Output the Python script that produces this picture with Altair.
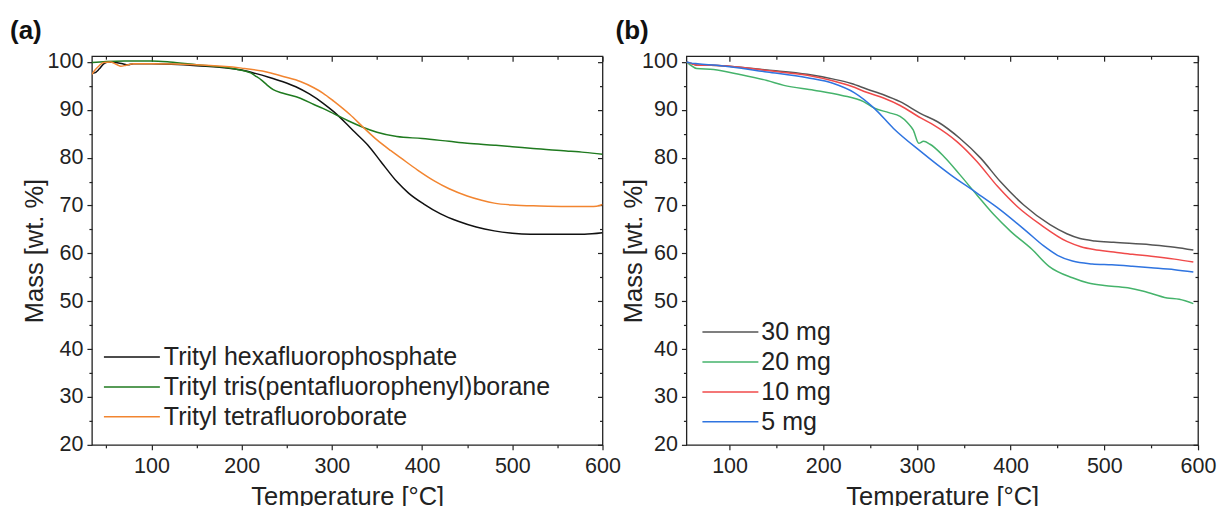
import altair as alt
import pandas as pd

FONT = "Liberation Sans"
INK = "#222222"

# ---------------- Panel (a) data ----------------
a_series = ["Trityl hexafluorophosphate", "Trityl tris(pentafluorophenyl)borane", "Trityl tetrafluoroborate"]
a_colors = ["#111111", "#1f7a1f", "#f28530"]

a_hexa_T = [34, 37, 42, 47, 52, 60, 68, 74, 80, 100, 150, 200, 215, 230, 245, 260, 275, 290, 302, 315,
            325, 340, 355, 372, 385, 402, 420, 440, 460, 480, 500, 520, 550, 580, 600]
a_hexa_M = [97.6, 97.7, 98.5, 99.6, 100.0, 99.9, 99.6, 99.4, 99.6, 99.6, 99.2, 98.3, 97.6, 96.8, 95.9, 94.8,
            93.3, 91.4, 89.6, 87.3, 85.4, 82.6, 79.0, 75.0, 72.6, 70.3, 68.3, 66.7, 65.5, 64.7, 64.2, 64.0,
            64.0, 64.0, 64.3]

a_tris_T = [34, 50, 70, 100, 120, 150, 190, 210, 215, 222, 228, 235, 245, 265, 280, 290, 302, 318, 335, 350,
            372, 400, 430, 450, 480, 500, 523, 560, 580, 600]
a_tris_M = [99.9, 100.1, 100.2, 100.2, 100.0, 99.4, 98.6, 97.7, 97.1, 96.2, 95.2, 94.2, 93.5, 92.4, 91.1,
            90.3, 89.2, 87.7, 86.3, 85.3, 84.4, 84.0, 83.4, 83.0, 82.6, 82.3, 81.9, 81.4, 81.1, 80.7]

a_tetra_T = [34, 37, 42, 47, 55, 62, 66, 72, 80, 100, 150, 200, 230, 247, 265, 280, 290, 302, 320, 335,
             350, 365, 376, 395, 413, 430, 450, 466, 480, 500, 530, 560, 590, 597, 600]
a_tetra_M = [97.4, 98.2, 99.2, 99.9, 100.0, 99.4, 99.1, 99.3, 99.6, 99.6, 99.4, 98.7, 97.8, 96.9, 95.9,
             94.6, 93.5, 91.8, 89.0, 86.3, 83.7, 81.5, 80.0, 77.4, 75.2, 73.5, 72.0, 71.1, 70.5, 70.1,
             69.9, 69.8, 69.8, 70.0, 70.2]

# ---------------- Panel (b) data ----------------
b_series = ["30 mg", "20 mg", "10 mg", "5 mg"]
b_colors = ["#555555", "#45b36b", "#f04a4a", "#2f74e0"]

b_30_T = [54, 60, 66, 80, 100, 140, 183, 211, 230, 247, 265, 282, 304, 322, 346, 368, 389, 414, 442, 460,
          474, 490, 510, 549, 575, 595]
b_30_M = [100.0, 99.6, 99.3, 99.3, 99.1, 98.3, 97.4, 96.4, 95.5, 94.3, 93.1, 91.7, 89.2, 87.5, 84.0, 79.9,
          75.0, 70.1, 66.0, 64.1, 63.1, 62.6, 62.3, 61.8, 61.3, 60.7]

b_20_T = [54, 58, 65, 83, 110, 140, 158, 190, 220, 243, 254, 270, 282, 290, 296, 302, 307, 314, 329, 346,
          364, 382, 400, 423, 441, 466, 483, 500, 525, 542, 567, 580, 595]
b_20_M = [100.0, 99.4, 98.6, 98.4, 97.4, 96.1, 95.1, 94.1, 93.0, 91.7, 90.4, 89.4, 88.6, 87.3, 85.8, 83.0,
          83.4, 82.8, 80.2, 76.4, 72.2, 68.1, 64.6, 60.8, 57.3, 54.9, 53.8, 53.3, 52.8, 52.1, 50.7, 50.4, 49.5]

b_10_T = [54, 60, 66, 80, 100, 140, 183, 211, 230, 247, 265, 282, 304, 318, 343, 364, 386, 407, 432, 460,
          475, 489, 510, 530, 550, 575, 595]
b_10_M = [100.0, 99.6, 99.3, 99.3, 99.1, 98.2, 97.2, 96.0, 94.9, 93.6, 92.4, 90.9, 88.3, 86.8, 83.3, 79.2,
          74.0, 69.8, 66.0, 62.5, 61.4, 60.8, 60.3, 59.8, 59.4, 58.8, 58.2]

b_5_T = [54, 58, 66, 86, 140, 183, 211, 233, 254, 275, 304, 336, 364, 389, 417, 435, 450, 466, 487, 508,
         530, 550, 575, 595]
b_5_M = [100.0, 99.8, 99.6, 99.3, 97.9, 96.7, 95.5, 93.6, 90.4, 86.1, 81.3, 76.4, 72.6, 69.1, 64.6, 61.6,
         59.6, 58.4, 57.8, 57.6, 57.3, 57.0, 56.6, 56.1]

# ---------------- Axes settings ----------------
a_xdomain = [34, 600]
b_xdomain = [54, 600]
ydomain = [20, 101.2]
x_major = [100, 200, 300, 400, 500, 600]
a_x_minor = [50, 150, 250, 350, 450, 550]
b_x_minor = [150, 250, 350, 450, 550]
y_major = [20, 30, 40, 50, 60, 70, 80, 90, 100]
y_minor = [25, 35, 45, 55, 65, 75, 85, 95]

# legend line symbol: a horizontal stroke twice the symbol's nominal width
LEGEND_LINE = "M-2,0H2"


def long_df(names, Ts, Ms):
    rows = []
    for k, (n, ts, ms) in enumerate(zip(names, Ts, Ms)):
        for t, m in zip(ts, ms):
            rows.append({"series": n, "T": t, "M": m, "k": k})
    return pd.DataFrame(rows)


def panel(df, names, colors, xdomain, x_minor, label, label_dx, ytitle_x, legend_x, legend_y,
          label_offset, w, h):
    xs = alt.Scale(domain=xdomain, nice=False, zero=False)
    ys = alt.Scale(domain=ydomain, nice=False, zero=False)

    lines = alt.Chart(df).mark_line(strokeWidth=1.5, clip=True, interpolate="monotone").encode(
        x=alt.X("T:Q", scale=xs, axis=alt.Axis(
            values=x_major, tickSize=5, tickWidth=1.2, tickColor=INK, labelPadding=6,
            labelFont=FONT, labelFontSize=21.5, labelColor=INK, labelFlush=False, labelOverlap=False,
            domain=False, grid=False, title="Temperature [°C]", titleFont=FONT, titleFontSize=25.5,
            titleFontWeight="normal", titleColor=INK, titleY=59.5, titleBaseline="alphabetic")),
        y=alt.Y("M:Q", scale=ys, axis=alt.Axis(
            values=y_major, tickSize=5, tickWidth=1.2, tickColor=INK, labelPadding=4,
            labelFont=FONT, labelFontSize=21.5, labelColor=INK, labelOverlap=False, labelFlush=False,
            domain=False, grid=False, title="Mass [wt. %]", titleFont=FONT, titleFontSize=25.5,
            titleFontWeight="normal", titleColor=INK, titleX=ytitle_x, titleY=h / 2,
            titleAngle=270, titleBaseline="middle", titleAlign="center")),
        color=alt.Color("series:N", scale=alt.Scale(domain=names, range=colors), legend=alt.Legend(
            orient="none", legendX=legend_x, legendY=legend_y, title=None, symbolType=LEGEND_LINE,
            symbolSize=784, symbolStrokeWidth=1.5, labelFont=FONT, labelFontSize=25, labelColor=INK,
            labelLimit=600, rowPadding=2, labelOffset=label_offset, padding=0, direction="vertical")),
        detail="k:N",
    )

    def ghost(xaxis, yaxis):
        return alt.Chart(df).mark_point(opacity=0).encode(
            x=alt.X("T:Q", scale=xs, axis=xaxis),
            y=alt.Y("M:Q", scale=ys, axis=yaxis),
        )

    common = dict(labels=False, domain=False, grid=False, title=None, tickColor=INK, tickWidth=1.2)
    minor_bl = ghost(alt.Axis(orient="bottom", values=x_minor, tickSize=3, **common),
                     alt.Axis(orient="left", values=y_minor, tickSize=3, **common))
    major_tr = ghost(alt.Axis(orient="top", values=x_major, tickSize=5, offset=-5, **common),
                     alt.Axis(orient="right", values=y_major, tickSize=5, offset=-5, **common))
    minor_tr = ghost(alt.Axis(orient="top", values=x_minor, tickSize=3, offset=-3, **common),
                     alt.Axis(orient="right", values=y_minor, tickSize=3, offset=-3, **common))

    lab = alt.Chart(pd.DataFrame({"t": [label]})).mark_text(
        align="left", baseline="middle", font=FONT, fontSize=26, fontWeight="bold", color="#111111"
    ).encode(text="t:N", x=alt.value(label_dx), y=alt.value(-25))

    return alt.layer(lines, minor_bl, major_tr, minor_tr, lab).resolve_axis(
        x="independent", y="independent").properties(width=w, height=h)


df_a = long_df(a_series, [a_hexa_T, a_tris_T, a_tetra_T], [a_hexa_M, a_tris_M, a_tetra_M])
df_b = long_df(b_series, [b_30_T, b_20_T, b_10_T, b_5_T], [b_30_M, b_20_M, b_10_M, b_5_M])

pa = panel(df_a, a_series, a_colors, a_xdomain, a_x_minor, "(a)", -82, -57.5, 25, 286, 17, 511, 389)
pb = panel(df_b, b_series, b_colors, b_xdomain, b_x_minor, "(b)", -71, -53, 29, 261, 16, 512, 389)

chart = alt.hconcat(pa, pb, spacing=84, bounds="flush").resolve_scale(
    color="independent").resolve_legend(color="independent").configure_view(
    stroke=INK, strokeWidth=1.3).properties(
    padding={"left": 9, "top": 17, "right": 0, "bottom": 0}, background="white")

chart.save("out.html", embed_options={"renderer": "svg", "actions": False})
